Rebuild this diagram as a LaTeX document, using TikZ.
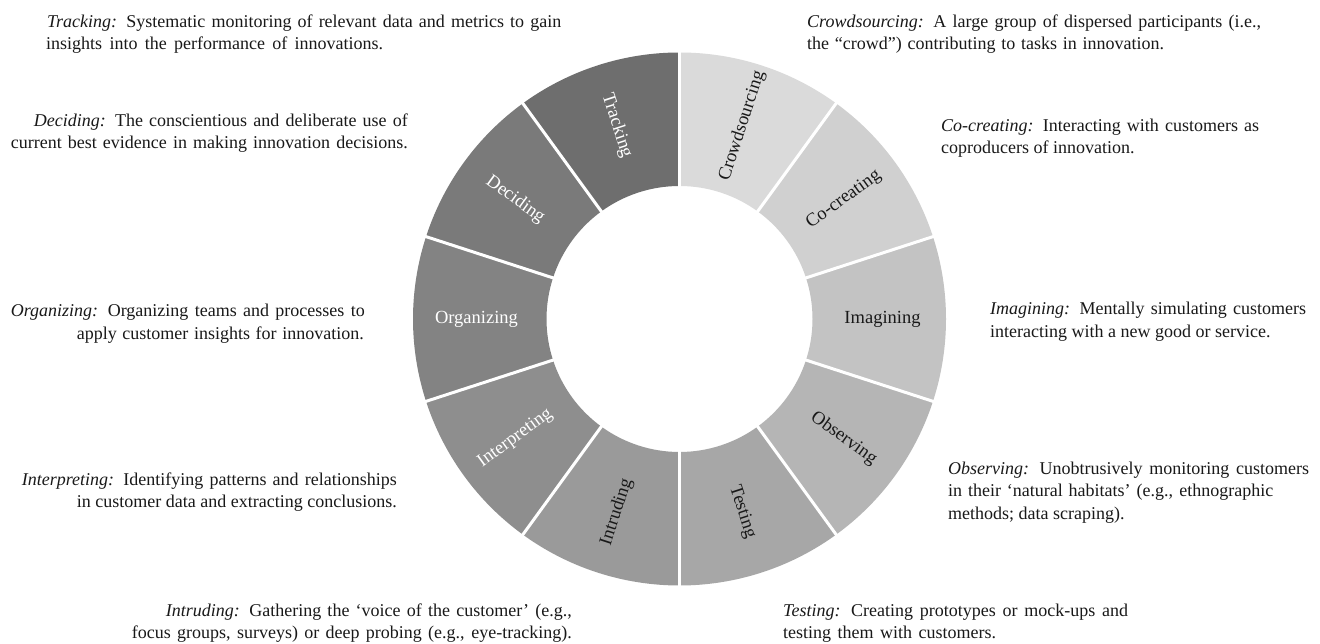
\documentclass[tikz,border=0pt]{standalone}
\usepackage{fontspec}
\setmainfont{Liberation Serif}
\definecolor{cTrack}{gray}{0.43}
\definecolor{cDec}{gray}{0.48}
\definecolor{cOrg}{gray}{0.515}
\definecolor{cInt}{gray}{0.555}
\definecolor{cIntr}{gray}{0.605}
\definecolor{cTest}{gray}{0.655}
\definecolor{cObs}{gray}{0.71}
\definecolor{cImg}{gray}{0.765}
\definecolor{cCo}{gray}{0.815}
\definecolor{cCrowd}{gray}{0.855}
\definecolor{ink}{gray}{0.1}
\begin{document}
\begin{tikzpicture}[x=1pt,y=1pt,
  lbl/.style={font=\fontsize{18.5}{20}\selectfont, inner sep=0pt},
  lw/.style={lbl, text=white},
  lk/.style={lbl, text=ink},
  dl/.style={font=\fontsize{18}{22}\selectfont, inner sep=0pt, anchor=base west, text=ink},
  dr/.style={font=\fontsize{18}{22}\selectfont, inner sep=0pt, anchor=base east, text=ink},
  gap/.style={draw=white, line width=3pt}]
\useasboundingbox (0,0) rectangle (1320,644);
\fill[white] (0,0) rectangle (1320,644);
\begin{scope}[shift={(679.5,325)}]
  \foreach \a/\b/\c in {90/126/cTrack, 126/162/cDec, 162/198/cOrg, 198/234/cInt, 234/270/cIntr,
                        270/306/cTest, 306/342/cObs, 342/378/cImg, 18/54/cCo, 54/90/cCrowd}
    \fill[\c] (\a:266.5) arc[start angle=\a, end angle=\b, radius=266.5]
      -- (\b:133) arc[start angle=\b, end angle=\a, radius=133] -- cycle;
  \foreach \a in {18,54,...,342}
    \draw[gap] (\a:131) -- (\a:269);
  \node[lk, rotate=72]  (lCrowd) at (72:203)   {Crowdsourcing};
  \node[lk, rotate=36]  (lCo)    at (36:203)   {Co-creating};
  \node[lk]             (lImg)   at (0:203)    {Imagining};
  \node[lk, rotate=-36] (lObs)   at (-36:203)  {Observing};
  \node[lk, rotate=-72] (lTest)  at (-72:203)  {Testing};
  \node[lk, rotate=72]  (lIntr)  at (-108:203) {Intruding};
  \node[lw, rotate=36]  (lInt)   at (-144:203) {Interpreting};
  \node[lw]             (lOrg)   at (180:203)  {Organizing};
  \node[lw, rotate=-36] (lDec)   at (144:203)  {Deciding};
  \node[lw, rotate=-72] (lTrack) at (108:203)  {Tracking};
\end{scope}
% left descriptions
\node[dl] (dTr1) at (47,616) {\makebox[514pt][s]{\textit{Tracking:} Systematic monitoring of relevant data and metrics to gain}};
\node[dl] (dTr2) at (46,594) {\makebox[337pt][s]{insights into the performance of innovations.}};
\node[dr] (dDe1) at (408,517) {\makebox[374pt][s]{\textit{Deciding:} The conscientious and deliberate use of}};
\node[dr] (dDe2) at (408,495) {\makebox[397pt][s]{current best evidence in making innovation decisions.}};
\node[dr] (dOr1) at (365,327) {\makebox[354pt][s]{\textit{Organizing:} Organizing teams and processes to}};
\node[dr] (dOr2) at (364,304) {\makebox[287pt][s]{apply customer insights for innovation.}};
\node[dr] (dIn1) at (397,158) {\makebox[375pt][s]{\textit{Interpreting:} Identifying patterns and relationships}};
\node[dr] (dIn2) at (397,136) {in customer data and extracting conclusions.};
\node[dr] (dIt1) at (572,27) {\makebox[406pt][s]{\textit{Intruding:} Gathering the ‘voice of the customer’ (e.g.,}};
\node[dr] (dIt2) at (572,5) {\makebox[440pt][s]{focus groups, surveys) or deep probing (e.g., eye-tracking).}};
% right descriptions
\node[dl] (dCr1) at (807,616) {\makebox[454pt][s]{\textit{Crowdsourcing:} A large group of dispersed participants (i.e.,}};
\node[dl] (dCr2) at (807,594) {\makebox[357pt][s]{the “crowd”) contributing to tasks in innovation.}};
\node[dl] (dCo1) at (941,512) {\makebox[318pt][s]{\textit{Co-creating:} Interacting with customers as}};
\node[dl] (dCo2) at (941,490) {coproducers of innovation.};
\node[dl] (dIm1) at (990,329) {\makebox[316pt][s]{\textit{Imagining:} Mentally simulating customers}};
\node[dl] (dIm2) at (990,306) {interacting with a new good or service.};
\node[dl] (dOb1) at (948,169) {\makebox[361pt][s]{\textit{Observing:} Unobtrusively monitoring customers}};
\node[dl] (dOb2) at (948,147) {\makebox[325pt][s]{in their ‘natural habitats’ (e.g., ethnographic}};
\node[dl] (dOb3) at (948,124) {methods; data scraping).};
\node[dl] (dTe1) at (783,27) {\makebox[345pt][s]{\textit{Testing:} Creating prototypes or mock-ups and}};
\node[dl] (dTe2) at (783,5) {\makebox[213pt][s]{testing them with customers.}};
\end{tikzpicture}
\end{document}
